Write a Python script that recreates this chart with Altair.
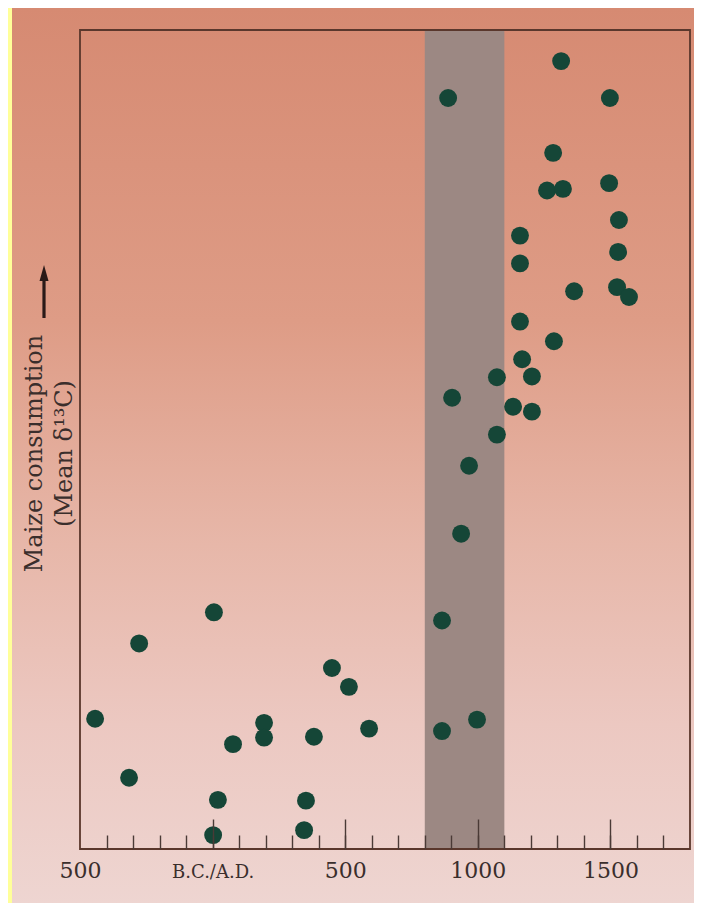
import altair as alt
import pandas as pd

# ---- data ----
years = [5, -277, -443, 450, 514, 590, 194, 194, 77, 382, -315, 20, 352, 2, 345,
         888, 865, 865, 903, 937, 967, 997, 1072, 1072, 1133, 1167, 1204, 1204,
         1159, 1159, 1159, 1287, 1363, 1261, 1321, 1284, 1314,
         1498, 1495, 1532, 1529, 1525, 1570]
maize = [28.9, 25.1, 15.9, 22.1, 19.8, 14.7, 15.4, 13.6, 12.8, 13.7, 8.7, 6.0, 5.9, 1.7, 2.3,
         91.7, 27.9, 14.4, 55.1, 38.5, 46.8, 15.8, 50.6, 57.6, 54.0, 59.8, 57.7, 53.4,
         64.4, 71.5, 74.9, 62.0, 68.1, 80.4, 80.6, 85.0, 96.2,
         91.7, 81.3, 76.8, 72.9, 68.6, 67.4]
band_start = [800]
band_end = [1100]
major_ticks = [-500, 0, 500, 1000, 1500]
major_labels = ["500", "B.C./A.D.", "500", "1000", "1500"]
minor_ticks = [-400, -300, -200, -100, 0, 100, 200, 300, 400, 500, 600, 700, 800,
               900, 1000, 1100, 1200, 1300, 1400, 1500, 1600, 1700]
y_title = ["Maize consumption", "(Mean δ¹³C)"]

W, H = 610, 819
PAD_L, PAD_T, PAD_R, PAD_B = 72, 22, 4, 54
FONT = "DejaVu Serif"
INK = "#3a2e2c"

df = pd.DataFrame({"year": years, "maize": maize})
band = pd.DataFrame({"start": band_start, "end": band_end})
one = pd.DataFrame({"k": [0]})

label_expr = "''"
for v, lab in reversed(list(zip(major_ticks, major_labels))):
    label_expr = f"datum.value == {v} ? '{lab}' : ({label_expr})"

xscale = alt.Scale(domain=[-500, 1800], nice=False, zero=False)
yscale = alt.Scale(domain=[0, 100], nice=False, zero=False)

grad = alt.Gradient(
    gradient="linear",
    stops=[
        alt.GradientStop(color="#d68a72", offset=0),
        alt.GradientStop(color="#de9c86", offset=0.35),
        alt.GradientStop(color="#e7b7a9", offset=0.6),
        alt.GradientStop(color="#ecc8c1", offset=0.8),
        alt.GradientStop(color="#eed5d1", offset=1),
    ],
    x1=0, x2=0, y1=0, y2=1,
)

bg = alt.Chart(one).mark_rect(fill=grad).encode(
    x=alt.value(4 - PAD_L), x2=alt.value(W + PAD_R),
    y=alt.value(-PAD_T), y2=alt.value(H + PAD_B)
)

band_layer = alt.Chart(band).mark_rect(color="#9c8883").encode(
    x=alt.X("start:Q", scale=xscale,
            axis=alt.Axis(values=minor_ticks, orient="bottom", offset=-14, tickSize=14,
                          labels=False, domain=False, grid=False, title=None,
                          tickColor="#4a3a36", tickWidth=1.4, zindex=1)),
    x2="end:Q",
)

frame = alt.Chart(one).mark_rect(filled=False, stroke="#5a372c", strokeWidth=1.8).encode(
    x=alt.value(0), x2=alt.value(W), y=alt.value(0), y2=alt.value(H)
)

pts = alt.Chart(df).mark_circle(size=320, color="#154637", opacity=1).encode(
    x=alt.X("year:Q", scale=xscale,
            axis=alt.Axis(values=major_ticks, orient="bottom", offset=-30, tickSize=30,
                          domain=False, grid=False, title=None,
                          labelExpr=label_expr, labelFont=FONT,
                          labelFontSize={"condition": {"test": "datum.value == 0", "value": 18}, "value": 22},
                          labelBaseline="alphabetic", labelPadding=28,
                          labelFlush=False, labelOverlap=False, labelColor=INK,
                          tickColor="#4a3a36", tickWidth=1.4,
                          tickOpacity={"condition": {"test": "datum.value == -500", "value": 0}, "value": 1},
                          zindex=1)),
    y=alt.Y("maize:Q", scale=yscale,
            axis=alt.Axis(orient="left", domain=False, ticks=False, labels=False, grid=False,
                          title=y_title, titleFont=FONT, titleFontSize=24,
                          titleFontWeight="normal", titleColor=INK, titleAngle=270,
                          titleAlign="center", titleBaseline="middle", titleLineHeight=30,
                          titleX=-46, titleY=423, zindex=1)),
)

arrow_shaft = alt.Chart(one).mark_rule(color="#2a1a18", strokeWidth=3.2).encode(
    x=alt.value(-36), y=alt.value(250), y2=alt.value(288)
)
arrow_head = alt.Chart(one).mark_point(shape="M0,-1L0.45,0.6L-0.45,0.6Z", size=400,
                                       filled=True, color="#2a1a18", opacity=1).encode(
    x=alt.value(-36), y=alt.value(245)
)

chart = (
    alt.layer(bg, band_layer, frame, pts, arrow_shaft, arrow_head)
    .resolve_axis(x="independent")
    .properties(width=W, height=H,
                autosize=alt.AutoSizeParams(type="none"),
                padding={"left": PAD_L, "top": PAD_T, "right": PAD_R, "bottom": PAD_B},
                background="#ffff99")
    .configure_view(strokeWidth=0)
)

chart.save("out.html", embed_options={"renderer": "svg", "actions": False})
